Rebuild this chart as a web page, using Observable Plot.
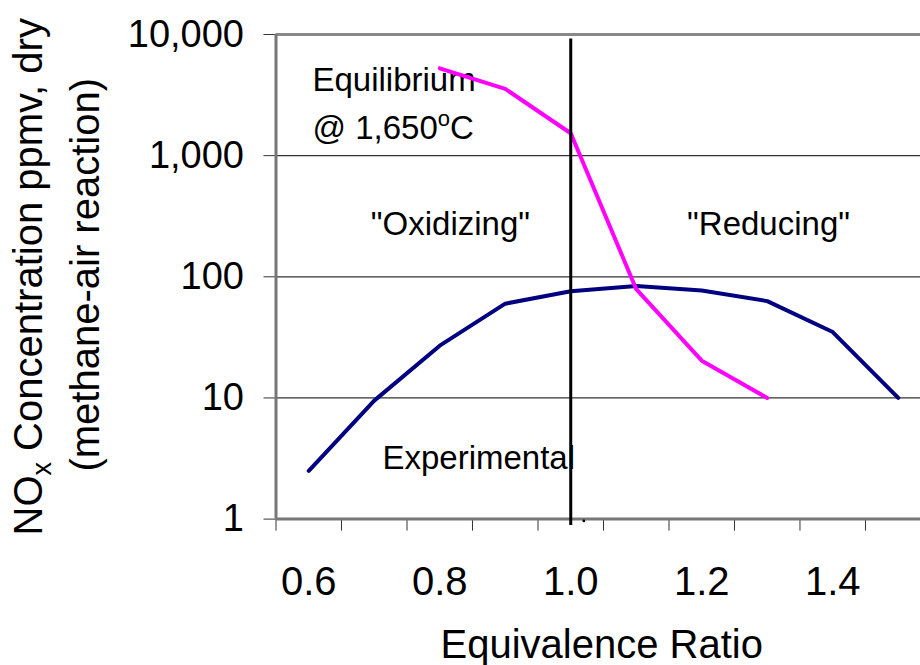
<!DOCTYPE html>
<html>
<head>
<meta charset="utf-8">
<script src="https://cdn.jsdelivr.net/npm/d3@7"></script>
<script src="https://cdn.jsdelivr.net/npm/@observablehq/plot@0.6"></script>
<style>
  html, body { margin: 0; padding: 0; background: white; }
  #chart { width: 920px; height: 665px; }
</style>
</head>
<body>
<div id="chart"></div>
<script>
// ---- data ----
const ratio = [0.6, 0.7, 0.8, 0.9, 1.0, 1.1, 1.2, 1.3, 1.4, 1.5];
const experimental = [2.5, 9.5, 27, 60, 76, 84, 77, 63, 35, 10];
const equilibriumRatio = [0.8, 0.9, 1.0, 1.1, 1.2, 1.3];
const equilibrium = [5260, 3560, 1530, 79, 20.3, 10];

const xTicks = [0.6, 0.8, 1.0, 1.2, 1.4];
const xTickLabels = ["0.6", "0.8", "1.0", "1.2", "1.4"];
const xMinorTicks = [0.55, 0.65, 0.75, 0.85, 0.95, 1.05, 1.15, 1.25, 1.35, 1.45];
const yTicks = [1, 10, 100, 1000, 10000];
const yTickLabels = ["1", "10", "100", "1,000", "10,000"];
const gridValues = [10, 100, 1000];

const noteText = ["Equilibrium", "@ 1,650oC", "Experimental"];
const noteX = [0.6057, 0.6057, 0.7125];
const noteY = [4170, 1676, 3.17];
const regionText = ["\"Oxidizing\"", "\"Reducing\""];
const regionX = [0.8163, 1.302];
const regionY = [270, 270];

const stoichX = [1.0];
const stoichTop = [9165];
const stoichBottom = [0.886];
const markerX = [1.02];
const markerY = [0.965];

const xTitle = "Equivalence Ratio";
const yTitle1 = "NOx Concentration ppmv, dry";
const yTitle2 = "(methane-air reaction)";

const font = "'Liberation Sans', Arial, sans-serif";

const expData = ratio.map((r, i) => ({r, v: experimental[i]}));
const eqData = equilibriumRatio.map((r, i) => ({r, v: equilibrium[i]}));
const notes = noteText.map((t, i) => ({t, x: noteX[i], y: noteY[i]}));
const regions = regionText.map((t, i) => ({t, x: regionX[i], y: regionY[i]}));

const chart = Plot.plot({
  width: 920,
  height: 665,
  marginLeft: 275.5,
  marginRight: 0,
  marginTop: 34,
  marginBottom: 146.4,
  style: {fontFamily: font, background: "white", color: "black", overflow: "visible"},
  x: {domain: [0.55, 1.534]},
  y: {type: "log", domain: [1, 10000]},
  marks: [
    Plot.ruleY(gridValues, {stroke: "#333", strokeWidth: 1.2}),
    Plot.ruleY([10000], {stroke: "#888", strokeWidth: 3}),
    Plot.axisY(yTicks, {
      tickSize: 12, tickPadding: 20, fontSize: 38, stroke: "#333", fill: "black",
      tickFormat: d => yTickLabels[yTicks.indexOf(d)], label: null
    }),
    Plot.axisX(xMinorTicks, {
      tickSize: 12, stroke: "#333", tickFormat: () => "", label: null
    }),
    Plot.axisX(xTicks, {
      tickSize: 0, tickPadding: 47, fontSize: 40, fill: "black",
      tickFormat: d => xTickLabels[xTicks.indexOf(d)], label: null
    }),
    Plot.ruleY([1], {stroke: "#777", strokeWidth: 3}),
    Plot.ruleX([0.55], {stroke: "#777", strokeWidth: 3}),
    Plot.text([xTitle], {frameAnchor: "bottom", lineAnchor: "middle", dy: 126.5, dx: 3.5, fontSize: 40, fill: "black"}),
    Plot.text([yTitle1], {frameAnchor: "left", textAnchor: "middle", lineAnchor: "middle", rotate: -90, dx: -246.5, fontSize: 40, fill: "black"}),
    Plot.text([yTitle2], {frameAnchor: "left", textAnchor: "middle", lineAnchor: "middle", rotate: -90, dx: -189.5, dy: -2, fontSize: 40, fill: "black"}),
    Plot.text(notes, {x: "x", y: "y", text: "t", textAnchor: "start", fontSize: 33, fill: "black"}),
    Plot.text(regions, {x: "x", y: "y", text: "t", textAnchor: "middle", fontSize: 33, fill: "black"}),
    Plot.line(expData, {x: "r", y: "v", stroke: "#000080", strokeWidth: 4}),
    Plot.line(eqData, {x: "r", y: "v", stroke: "#ff00ff", strokeWidth: 4}),
    Plot.ruleX(stoichX, {x: d => d, y1: (d, i) => stoichTop[i], y2: (d, i) => stoichBottom[i], stroke: "black", strokeWidth: 3}),
    Plot.dot(markerX, {x: d => d, y: (d, i) => markerY[i], r: 1.4, fill: "black", stroke: null})
  ]
});

// subscripts / superscripts inside the real text elements
d3.select(chart).selectAll("text").each(function () {
  const el = d3.select(this);
  const t = this.textContent;
  if (t === yTitle1) {
    el.text(null);
    el.append("tspan").text("NO");
    el.append("tspan").attr("font-size", 27).attr("dy", 9).text("x");
    el.append("tspan").attr("dy", -9).text(" Concentration ppmv, dry");
  } else if (t === "@ 1,650oC") {
    el.text(null);
    el.append("tspan").text("@ 1,650");
    el.append("tspan").attr("font-size", 22).attr("dy", -13).text("o");
    el.append("tspan").attr("dy", 13).text("C");
  }
});

document.getElementById("chart").appendChild(chart);
</script>
</body>
</html>
